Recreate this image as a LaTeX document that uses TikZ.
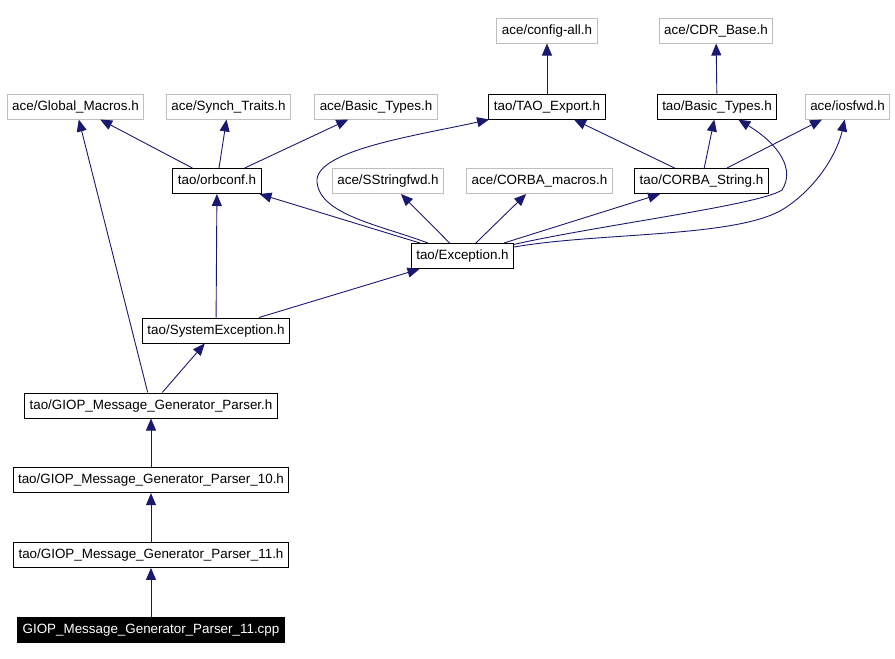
\documentclass[tikz,border=0pt]{standalone}
\usepackage{fontspec}
\setmainfont{Liberation Sans}
\usetikzlibrary{arrows.meta}
\definecolor{edgeblue}{RGB}{25,25,112}
\definecolor{boxgray}{RGB}{191,191,191}

\begin{document}
\begin{tikzpicture}[x=1pt, y=-1pt, node distance=74.7pt,
  incfile/.style={rectangle, draw=black, line width=1pt, fill=white, minimum height=25pt, inner xsep=5pt, text height=9.5pt, text depth=2.5pt, font=\fontsize{13.4}{15}\selectfont},
  extfile/.style={incfile, draw=boxgray},
  srcfile/.style={incfile, fill=black, text=white},
  dep/.style={draw=edgeblue, line width=0.9pt, -{Triangle[length=12pt, width=10pt]}}]
\useasboundingbox (0,0) rectangle (895,659);

% top row of ace headers
\node (cfgall) [extfile] at (547,30.5) {ace/config-all.h};
\node (cdrbase) [extfile] at (716,30.5) {ace/CDR\_Base.h};

\node (globmac) [extfile] at (75.5,106.5) {ace/Global\_Macros.h};
\node (synch) [extfile] at (228.5,106.5) {ace/Synch\_Traits.h};
\node (acebt) [extfile] at (376,106.5) {ace/Basic\_Types.h};
\node (taoexp) [incfile] at (547,106.5) {tao/TAO\_Export.h};
\node (taobt) [incfile] at (717,106.5) {tao/Basic\_Types.h};
\node (iosfwd) [extfile] at (847.5,106.5) {ace/iosfwd.h};

\node (orbconf) [incfile] at (217,181) {tao/orbconf.h};
\node (sstring) [extfile] at (388,181) {ace/SStringfwd.h};
\node (cmacros) [extfile] at (539.5,181) {ace/CORBA\_macros.h};
\node (cstring) [incfile] at (701.5,181) {tao/CORBA\_String.h};

\node (exc) [incfile] at (462.5,256) {tao/Exception.h};
\node (sysexc) [incfile] at (216,330.5) {tao/SystemException.h};

% the parser chain
\node (parser) [incfile] at (151,405.5) {tao/GIOP\_Message\_Generator\_Parser.h};
\node (parser10) [incfile, below of=parser] {tao/GIOP\_Message\_Generator\_Parser\_10.h};
\node (parser11) [incfile, below of=parser10] {tao/GIOP\_Message\_Generator\_Parser\_11.h};
\node (source) [srcfile, below of=parser11] {GIOP\_Message\_Generator\_Parser\_11.cpp};

\draw[dep] (source) -- (parser11);
\draw[dep] (parser11) -- (parser10);
\draw[dep] (parser10) -- (parser);
\draw[dep] (parser) -- (sysexc);
\draw[dep] (parser) -- (globmac);
\draw[dep] (sysexc) -- (orbconf);
\draw[dep] (sysexc) -- (exc);
\draw[dep] (orbconf) -- (globmac);
\draw[dep] (orbconf) -- (synch);
\draw[dep] (orbconf) -- (acebt);
\draw[dep] (exc) -- (orbconf);
\draw[dep] (exc) -- (sstring);
\draw[dep] (exc) -- (cmacros);
\draw[dep] (exc) -- (cstring);
\draw[dep] (exc) .. controls (380,225) and (320,215) .. (317,182) .. controls (314,150) and (420,135) .. (taoexp);
\draw[dep] (exc) .. controls (600,225) and (760,205) .. (782,190) .. controls (795,170) and (780,145) .. (taobt);
\draw[dep] (exc) .. controls (600,232) and (740,238) .. (785,208) .. controls (820,185) and (838,150) .. (iosfwd);
\draw[dep] (cstring) -- (taoexp);
\draw[dep] (cstring) -- (taobt);
\draw[dep] (cstring) -- (iosfwd);
\draw[dep] (taoexp) -- (cfgall);
\draw[dep] (taobt) -- (cdrbase);

\end{tikzpicture}
\end{document}
